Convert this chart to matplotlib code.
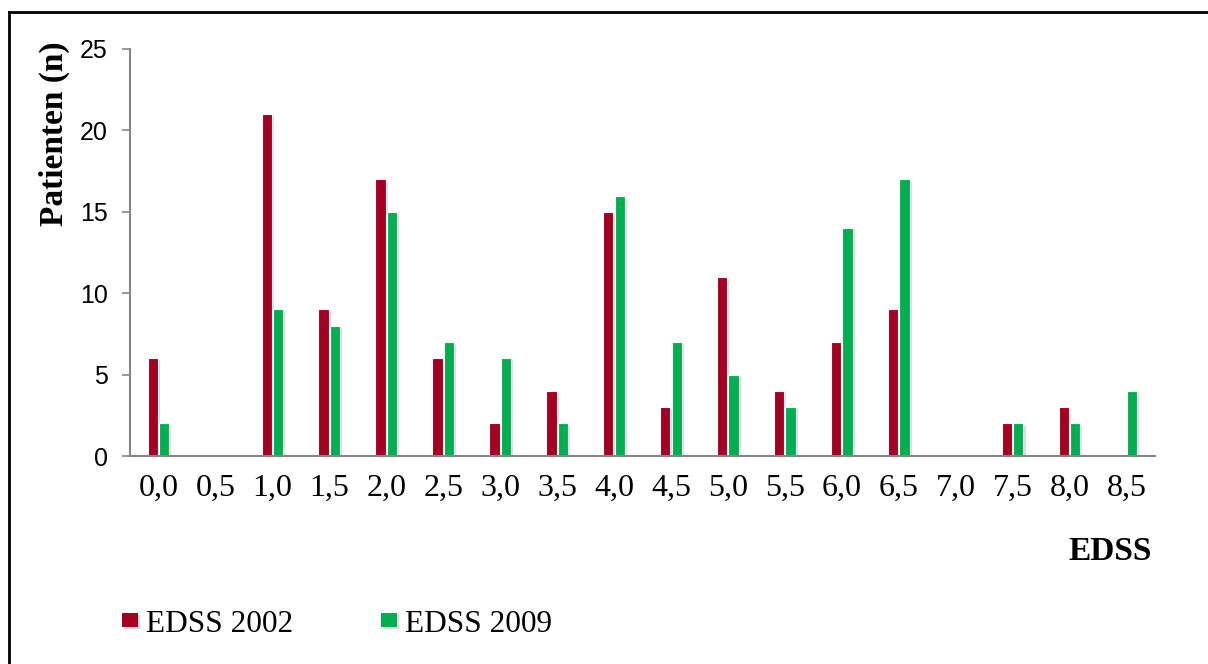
import matplotlib
matplotlib.use('Agg')
import matplotlib.pyplot as plt
import matplotlib.patheffects as pe
from matplotlib.lines import Line2D
import numpy as np

# EDSS categories and patient counts for both survey years
edss = ['0,0', '0,5', '1,0', '1,5', '2,0', '2,5', '3,0', '3,5', '4,0',
        '4,5', '5,0', '5,5', '6,0', '6,5', '7,0', '7,5', '8,0', '8,5']
edss_2002 = [6, 0, 21, 9, 17, 6, 2, 4, 15, 3, 11, 4, 7, 9, 0, 2, 3, 0]
edss_2009 = [2, 0, 9, 8, 15, 7, 6, 2, 16, 7, 5, 3, 14, 17, 0, 2, 2, 4]

red = '#A50021'
green = '#00B050'
axis_grey = '#868686'
serif = 'Liberation Serif'

W, H = 1208, 664
fig = plt.figure(figsize=(W / 100, H / 100), dpi=100)
ax = fig.add_axes([130 / W, 1 - 456 / H, (1155 - 130) / W, (456 - 49) / H])

x = np.arange(len(edss))
bw = 0.18
shadow = [pe.SimplePatchShadow(offset=(1.5, -1.5), shadow_rgbFace='#999999', alpha=0.35),
          pe.Normal()]
b1 = ax.bar(x - bw / 2 - 0.01, edss_2002, bw, color=red, edgecolor='white',
            linewidth=0.8, label='EDSS 2002')
b2 = ax.bar(x + bw / 2 + 0.01, edss_2009, bw, color=green, edgecolor='white',
            linewidth=0.8, label='EDSS 2009')
for bars in (b1, b2):
    for r in bars:
        if r.get_height() > 0:
            r.set_path_effects(shadow)
        else:
            r.set_visible(False)

ax.set_xlim(-0.5, len(edss) - 0.5)
ax.set_ylim(0, 25)
ax.set_yticks(range(0, 26, 5))
ax.set_xticks(x)
ax.set_xticklabels(edss, fontfamily=serif, fontsize=23)
for lab in ax.get_yticklabels():
    lab.set_fontfamily('Liberation Sans')
    lab.set_fontsize(18)
ax.tick_params(axis='x', length=0, pad=13)
ax.tick_params(axis='y', length=6, width=1.2, color=axis_grey, pad=10)

for side in ('top', 'right'):
    ax.spines[side].set_visible(False)
for side in ('left', 'bottom'):
    ax.spines[side].set_color(axis_grey)
    ax.spines[side].set_linewidth(1.5)

fig.text(54 / W, 1 - 134 / H, 'Patienten (n)', rotation=90, ha='center', va='center',
         fontfamily=serif, fontsize=24, fontweight='bold')
fig.text(1152 / W, 1 - 551 / H, 'EDSS', ha='right', va='center',
         fontfamily=serif, fontsize=24, fontweight='bold')

leg = fig.legend(handles=[b1, b2], loc='center left', bbox_to_anchor=(122 / W, 1 - 624 / H),
                 ncol=2, frameon=False, prop={'family': serif, 'size': 22.5},
                 handlelength=0.5, handleheight=0.3, handletextpad=0.28,
                 columnspacing=2.8, borderpad=0, borderaxespad=0)
for h in leg.legend_handles:
    h.set_edgecolor('none')

# outer frame around the figure (top and left edges)
fig.add_artist(Line2D([9 / W, 1], [1 - 12 / H, 1 - 12 / H], color='black', lw=2,
                      transform=fig.transFigure))
fig.add_artist(Line2D([9 / W, 9 / W], [0, 1 - 12 / H], color='black', lw=2,
                      transform=fig.transFigure))

fig.savefig('out.png', dpi=100)
